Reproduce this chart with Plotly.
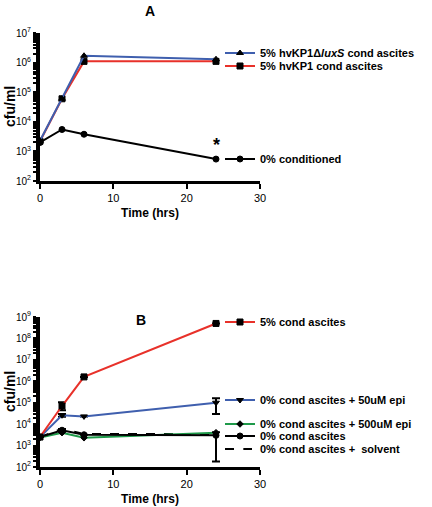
import plotly.graph_objects as go

# ---------- data ----------
time_h = [0, 3, 6, 24]

# Panel A
a_luxs = [2300, 60000, 1700000, 1300000]
a_hvkp1 = [2200, 60000, 1100000, 1100000]
a_zero = [2000, 5500, 3800, 550]

# Panel B
b_cond5 = [2500, 70000, 1600000, 500000000]
b_cond5_up = [0, 35000, 0, 0]
b_cond5_dn = [0, 25000, 0, 0]
b_epi50 = [2500, 26000, 23000, 100000]
b_epi50_up = [0, 4000, 0, 60000]
b_epi50_dn = [0, 4000, 0, 70000]
b_epi500 = [2400, 4000, 2300, 4000]
b_zero = [2500, 5200, 3200, 3000]
b_zero_up = [0, 800, 0, 1200]
b_zero_dn = [0, 800, 0, 2820]
b_solvent = [2500, 6000, 3500, 3500]

names_a = ["5% hvKP1Δ<i>luxS</i> cond ascites", "5% hvKP1 cond ascites", "0% conditioned"]
names_b = ["5% cond ascites", "0% cond ascites + 50uM epi", "0% cond ascites + 500uM epi",
           "0% cond ascites", "0% cond ascites +  solvent"]

FONT = "Liberation Sans, Arial, sans-serif"
RED = "#e8312a"
BLUE = "#3f5fae"
GREEN = "#1f9a4a"

fig = go.Figure()

def add(xaxis, yaxis, y, name, color, symbol, legend, dash="solid", msize=6,
        up=None, dn=None, mfill=None):
    err = None
    if up is not None:
        err = dict(type="data", array=up, arrayminus=dn, color="black",
                   thickness=2, width=4, visible=True)
    fig.add_trace(go.Scatter(
        x=time_h, y=y, name=name, mode="lines+markers",
        xaxis=xaxis, yaxis=yaxis, legend=legend,
        line=dict(color=color, width=2, dash=dash),
        marker=dict(symbol=symbol, size=msize, color=mfill or "black",
                    line=dict(color="black", width=1)),
        error_y=err, cliponaxis=False, showlegend=True))

# Panel A
add("x", "y", a_zero, names_a[2], "black", "circle", "legend3")
add("x", "y", a_hvkp1, names_a[1], RED, "square", "legend2")
add("x", "y", a_luxs, names_a[0], BLUE, "triangle-up", "legend")

# Panel B
add("x2", "y2", b_solvent, names_b[4], "black", "circle-open", "legend8", dash="dash", mfill="white")
add("x2", "y2", b_epi500, names_b[2], GREEN, "diamond", "legend6", msize=5)
add("x2", "y2", b_zero, names_b[3], "black", "circle", "legend7", up=b_zero_up, dn=b_zero_dn)
add("x2", "y2", b_epi50, names_b[1], BLUE, "triangle-down", "legend5", up=b_epi50_up, dn=b_epi50_dn)
add("x2", "y2", b_cond5, names_b[0], RED, "square", "legend4", up=b_cond5_up, dn=b_cond5_dn)

# the page body margin is removed by post_script, so the figure fills the window
W, H = 432, 507
def px(x): return x / W
def py(y): return 1 - y / H

def ylog(lo, hi):
    vals, txt = [], []
    for e in range(lo, hi + 1):
        vals.append(10 ** e)
        txt.append(f"10<sup>{e}</sup>")
        if e < hi:
            for m in range(2, 10):
                vals.append(m * 10 ** e)
                txt.append("")
    return vals, txt

yva, yta = ylog(2, 7)
yvb, ytb = ylog(2, 9)

xcommon = dict(range=[0, 30], tickvals=[0, 10, 20, 30], showline=True, linecolor="black",
               linewidth=3, ticks="outside", ticklen=5, tickwidth=2, tickcolor="black",
               showgrid=False, zeroline=False, tickfont=dict(size=11, family=FONT, color="black"),
               domain=[px(40), px(260)], automargin=False)
ycommon = dict(type="log", showline=True, linecolor="black", linewidth=4, ticks="outside",
               ticklen=3, tickwidth=2, tickcolor="black", showgrid=False, zeroline=False,
               tickfont=dict(size=10, family=FONT, color="black"), automargin=False)

def note(text, x, y, size, angle=0):
    return dict(text=text, x=px(x), y=py(y), xref="paper", yref="paper", showarrow=False,
                xanchor="center", yanchor="middle", textangle=angle,
                font=dict(size=size, family=FONT, color="black"))

fig.update_layout(
    width=W, height=H, margin=dict(l=0, r=0, t=0, b=0),
    paper_bgcolor="white", plot_bgcolor="white",
    xaxis=dict(**xcommon, anchor="y",
               title=dict(text="<b>Time (hrs)</b>", font=dict(size=12, family=FONT, color="black"), standoff=6)),
    yaxis=dict(**ycommon, range=[2, 7], tickvals=yva, ticktext=yta, anchor="x",
               domain=[py(181), py(33)]),
    xaxis2=dict(**xcommon, anchor="y2",
                title=dict(text="<b>Time (hrs)</b>", font=dict(size=12, family=FONT, color="black"), standoff=6)),
    yaxis2=dict(**ycommon, range=[2, 9], tickvals=yvb, ticktext=ytb, anchor="x2",
                domain=[py(467), py(317)]),
    annotations=[
        note("<b>A</b>", 150, 11, 14),
        note("<b>B</b>", 141, 320, 14),
        dict(text="<b>*</b>", x=24, y=3.22, xref="x", yref="y", showarrow=False,
             xanchor="center", yanchor="middle",
             font=dict(size=18, family=FONT, color="black")),
        note("<b>cfu/ml</b>", 10, 107, 14, -90),
        note("<b>cfu/ml</b>", 10, 392, 14, -90),
    ],
)

def leg(y):
    return dict(x=px(220), y=py(y), xanchor="left", yanchor="middle", bgcolor="rgba(0,0,0,0)",
                font=dict(size=11, family=FONT, color="black", weight="bold"),
                itemwidth=30, tracegroupgap=0)

fig.update_layout(legend=leg(53), legend2=leg(66), legend3=leg(159),
                  legend4=leg(322), legend5=leg(400), legend6=leg(424),
                  legend7=leg(436), legend8=leg(449))

fig.write_html("out.html", config={"displayModeBar": False},
               post_script="document.body.style.margin='0';")
